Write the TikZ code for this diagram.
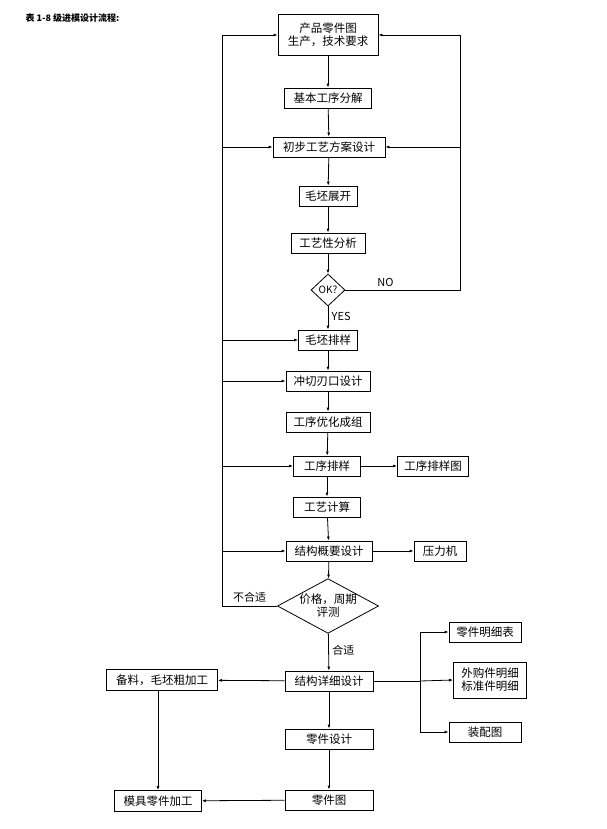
\documentclass[tikz,border=0pt]{standalone}
\usepackage{fontspec}
\setmainfont{Noto Sans CJK SC}
\usetikzlibrary{shapes.geometric,arrows.meta}
\begin{document}
\begin{tikzpicture}[x=1pt,y=-1pt,
  bx/.style={draw,thick,inner sep=0pt,font=\fontsize{11.5}{13}\selectfont},
  dm/.style={draw,thick,diamond,aspect=1,inner sep=0pt,font=\fontsize{11.5}{13}\selectfont},
  ar/.style={-{Latex[length=4pt,width=3pt]},thick},
  ln/.style={thick},
  lb/.style={font=\fontsize{11}{13}\selectfont}]
\useasboundingbox (0,0) rectangle (607,829);
\node[anchor=west,font=\bfseries\fontsize{9}{11}\selectfont] (title) at (22,18) {表 1-8 级进模设计流程:};
\node[bx,minimum width=100,minimum height=41,align=center] (p1) at (328,35) {产品零件图\\生产，技术要求};
\node[bx,minimum width=87,minimum height=20] (b2) at (328,98) {基本工序分解};
\node[bx,minimum width=112,minimum height=20] (b3) at (329,147) {初步工艺方案设计};
\node[bx,minimum width=58,minimum height=20] (b4) at (328,196) {毛坯展开};
\node[bx,minimum width=74,minimum height=20] (b5) at (328,243) {工艺性分析};
\node[dm,minimum width=34,minimum height=32,font=\fontsize{10}{12}\selectfont] (ok) at (328,290) {OK?};
\node[bx,minimum width=59,minimum height=20] (b6) at (328,340) {毛坯排样};
\node[bx,minimum width=84,minimum height=20] (b7) at (328,381) {冲切刃口设计};
\node[bx,minimum width=84,minimum height=20] (b8) at (328,422) {工序优化成组};
\node[bx,minimum width=67,minimum height=20] (b9) at (327,466) {工序排样};
\node[bx,minimum width=71,minimum height=20] (b9r) at (433,466) {工序排样图};
\node[bx,minimum width=67,minimum height=20] (b10) at (327,507) {工艺计算};
\node[bx,minimum width=86,minimum height=20] (b11) at (329,551) {结构概要设计};
\node[bx,minimum width=52,minimum height=20] (b11r) at (440,551) {压力机};
\node[dm,aspect=1.85,minimum width=96,minimum height=52,align=center] (pj) at (328,606) {价格，周期\\评测};
\node[bx,minimum width=88,minimum height=20] (b12) at (329,681) {结构详细设计};
\node[bx,minimum width=111,minimum height=21] (bl) at (162,680) {备料，毛坯粗加工};
\node[bx,minimum width=72,minimum height=20] (r1) at (485,632) {零件明细表};
\node[bx,minimum width=73,minimum height=36,align=center] (r2) at (490,680) {外购件明细\\标准件明细};
\node[bx,minimum width=72,minimum height=20] (r3) at (485,732) {装配图};
\node[bx,minimum width=88,minimum height=20] (b13) at (329,739) {零件设计};
\node[bx,minimum width=88,minimum height=20] (b14) at (329,800) {零件图};
\node[bx,minimum width=87,minimum height=21] (bm) at (158,801) {模具零件加工};
\coordinate (L0) at (222,35);
\coordinate (L1) at (222,606);
\coordinate (R0) at (460,35);
\coordinate (R1) at (460,290);
\coordinate (J) at (420,681);
\coordinate (J1) at (420,632);
\coordinate (J3) at (420,732);
\draw[ar] (p1) -- (b2);
\draw[ar] (b2) -- (b3);
\draw[ar] (b3) -- (b4);
\draw[ar] (b4) -- (b5);
\draw[ar] (b5) -- (ok);
\draw[ar] (ok) -- node[lb,right,pos=0.45] {YES} (b6);
\draw[ar] (b6) -- (b7);
\draw[ar] (b7) -- (b8);
\draw[ar] (b8) -- (b9);
\draw[ar] (b9) -- (b9r);
\draw[ar] (b9) -- (b10);
\draw[ar] (b10) -- (b11);
\draw[ar] (b11) -- (b11r);
\draw[ar] (b11) -- (pj);
\draw[ar] (pj) -- node[lb,right,pos=0.45] {合适} (b12);
\draw[ar] (b12) -- (bl);
\draw[ar] (b12) -- (b13);
\draw[ar] (b13) -- (b14);
\draw[ar] (b14) -- (bm);
\draw[ar] (bl.south -| bm) -- (bm);
\draw[ln] (ok.east) -- node[lb,above,pos=0.35] {NO} (R1) -- (R0);
\draw[ar] (R0) -- (p1.east);
\draw[ar] (b3.east -| R0) -- (b3.east);
\draw[ln] (pj.west) -- node[lb,above,pos=0.5] {不合适} (L1) -- (L0);
\draw[ar] (L0) -- (p1.west);
\draw[ar] (b3.west -| L0) -- (b3.west);
\draw[ar] (b6.west -| L0) -- (b6.west);
\draw[ar] (b7.west -| L0) -- (b7.west);
\draw[ar] (b9.west -| L0) -- (b9.west);
\draw[ar] (b11.west -| L0) -- (b11.west);
\draw[ln] (b12.east) -- (J);
\draw[ln] (J1) -- (J3);
\draw[ar] (J1) -- (r1.west);
\draw[ar] (J) -- (r2.west);
\draw[ar] (J3) -- (r3.west);
\end{tikzpicture}
\end{document}
